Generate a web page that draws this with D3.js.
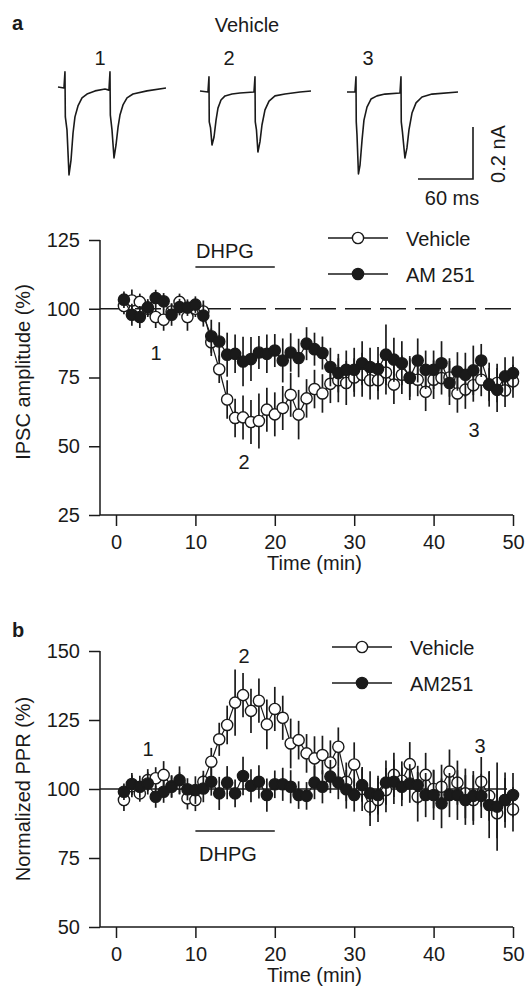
<!DOCTYPE html>
<html>
<head>
<meta charset="utf-8">
<script src="https://cdn.jsdelivr.net/npm/d3@7"></script>
<style>
  body { margin: 0; background: #fff; }
  text { font-family: "Liberation Sans", Arial, Helvetica, sans-serif; fill: #1a1a1a; }
</style>
</head>
<body>
<div id="chart"></div>
<script>

//-------------------------------------------------------//
//                        DATA                           //
//-------------------------------------------------------//

// time points (min)
var minutes = [1, 2, 3, 4, 5, 6, 7, 8, 9, 10, 11, 12, 13, 14, 15, 16, 17, 18, 19, 20,
    21, 22, 23, 24, 25, 26, 27, 28, 29, 30, 31, 32, 33, 34, 35, 36, 37, 38, 39, 40,
    41, 42, 43, 44, 45, 46, 47, 48, 49, 50];

// panel a: IPSC amplitude (%)
var ipscVehicle = [101, 103, 102.5, 100, 97, 96, 99, 102.5, 97, 100, 99, 87.8, 78.0, 67.0, 60.3,
    60.5, 58.8, 59.2, 63.3, 61.6, 63.9, 68.7, 61.5, 67.4, 70.8, 69.2, 72.7, 74.0, 73.0, 75.0,
    76.0, 74.0, 74.0, 76.8, 72.4, 76.0, 75.0, 74.2, 69.8, 74.2, 74.8, 75.0, 69.2, 70.6, 72.2,
    74.2, 72.4, 73.0, 70.3, 73.6];
var ipscVehicleErr = [3, 4, 3, 3, 4, 4, 3, 3, 5, 3, 4, 5, 5, 7, 7, 8, 8, 10, 8, 8, 8, 8, 9, 7, 7,
    7, 7, 8, 8, 7, 8, 7, 7, 8, 7, 7, 7, 6, 7, 7, 6, 7, 7, 7, 6, 6, 6, 7, 6, 6];
var ipscAM251 = [103.3, 97.8, 97.0, 100.5, 103.9, 102.7, 97.8, 100.6, 100.4, 101.5, 97.5, 90.0,
    88.1, 83.3, 83.6, 80.8, 81.7, 84.1, 83.6, 84.8, 81.2, 84.1, 82.1, 87.3, 85.3, 83.9, 78.8,
    76.6, 77.8, 77.8, 80.2, 78.8, 78.1, 83.3, 81.5, 80.2, 74.8, 81.2, 77.8, 77.8, 80.2, 73.0,
    77.2, 76.0, 77.6, 81.2, 72.4, 70.5, 75.4, 76.6];
var ipscAM251Err = [3, 4, 4, 3, 3, 3, 4, 3, 3, 3, 4, 6, 7, 8, 7, 9, 8, 6, 7, 6, 8, 7, 7, 6, 6,
    6, 7, 7, 7, 8, 8, 7, 8, 11, 8, 8, 8, 8, 7, 7, 8, 8, 7, 8, 9, 6, 8, 8, 7, 6];

// panel b: normalized PPR (%)
var pprVehicle = [96.0, 101.0, 98.4, 103.2, 103.9, 105.1, 101.0, 102.0, 96.6, 96.0, 102.6, 109.9,
    118.0, 123.2, 131.3, 134.0, 128.3, 132.0, 123.4, 129.0, 125.8, 116.5, 117.7, 112.9, 111.1,
    112.3, 109.6, 115.3, 102.6, 108.9, 100.0, 93.6, 96.0, 99.6, 105.1, 103.0, 109.0, 97.2, 105.1,
    100.0, 100.8, 106.3, 102.3, 98.4, 96.0, 102.6, 97.5, 91.2, 96.0, 92.6];
var pprVehicleErr = [4, 4, 3, 4, 4, 5, 4, 4, 4, 4, 4, 5, 6, 7, 12, 8, 8, 8, 9, 8, 8, 9, 7, 7, 8,
    7, 8, 7, 7, 8, 8, 7, 8, 8, 8, 7, 8, 9, 8, 7, 8, 8, 8, 9, 9, 9, 9, 9, 8, 8];
var pprAM251 = [99.0, 101.8, 100.8, 102.0, 97.2, 99.0, 100.8, 103.2, 99.9, 99.6, 100.2, 102.6,
    98.4, 102.3, 98.4, 104.7, 101.2, 102.6, 97.8, 101.7, 101.7, 100.8, 97.8, 97.5, 102.3, 100.8,
    104.5, 102.3, 99.9, 97.8, 101.4, 98.4, 97.8, 102.3, 102.6, 100.8, 102.0, 101.4, 97.8, 97.8,
    94.8, 97.8, 97.8, 96.0, 97.5, 97.5, 94.2, 93.6, 96.0, 97.8];
var pprAM251Err = [3, 4, 4, 4, 4, 4, 4, 5, 4, 5, 5, 5, 6, 6, 5, 7, 6, 6, 6, 5, 6, 6, 5, 5, 6,
    6, 6, 6, 7, 6, 6, 8, 7, 8, 8, 7, 7, 7, 8, 9, 9, 8, 9, 9, 9, 8, 12, 16, 10, 8];

// ticks
var timeTicks = [0, 10, 20, 30, 40, 50];
var ipscTicks = [25, 50, 75, 100, 125];
var pprTicks = [50, 75, 100, 125, 150];

// example traces [ms, nA]
var trace1 = [[0, 0], [6.5, -0.004], [7.6, 0.058], [8.0, -0.115], [9.8, -0.165], [12.0, -0.338],
    [14.2, -0.281], [16.4, -0.177], [18.5, -0.115], [21.8, -0.073], [26.2, -0.042], [31.6, -0.027],
    [40.4, -0.015], [51.3, -0.008], [55.6, -0.012], [56.7, 0.058], [57.1, -0.108], [58.9, -0.165],
    [61.1, -0.273], [63.3, -0.223], [65.5, -0.154], [67.6, -0.108], [70.9, -0.069], [75.3, -0.042],
    [81.8, -0.027], [97.1, -0.015], [117.8, -0.004]];
var trace2 = [[0, 0.004], [8.7, 0], [9.8, 0.058], [10.1, -0.115], [11.5, -0.138], [13.1, -0.204],
    [15.3, -0.173], [17.5, -0.108], [19.6, -0.062], [22.9, -0.031], [27.3, -0.015], [34.9, -0.008],
    [43.6, -0.004], [58.9, 0], [60.0, 0.058], [60.3, -0.115], [61.6, -0.146], [63.2, -0.231],
    [65.4, -0.192], [67.6, -0.127], [70.9, -0.069], [75.3, -0.035], [81.8, -0.015], [92.7, -0.008],
    [109.1, 0], [121.1, 0.004]];
var trace3 = [[0, 0], [8.7, 0], [9.8, 0.058], [10.1, -0.115], [10.9, -0.165], [12.5, -0.315],
    [14.2, -0.281], [16.4, -0.185], [18.5, -0.108], [21.8, -0.058], [26.2, -0.027], [32.7, -0.015],
    [41.4, -0.008], [57.8, -0.004], [58.9, 0.058], [59.2, -0.115], [60.5, -0.154], [63.2, -0.254],
    [65.4, -0.215], [67.6, -0.146], [70.9, -0.081], [75.3, -0.042], [81.8, -0.019], [92.7, -0.008],
    [121.1, 0]];


//-------------------------------------------------------//
//                   DEFINE SVG AREA                     //
//-------------------------------------------------------//

var svgWidth = 527;
var svgHeight = 991;
var ink = "#1a1a1a";

var svg = d3.select("#chart")
    .append("svg")
    .attr("width", svgWidth)
    .attr("height", svgHeight);

// label helper
function label(x, y, txt, opts) {
    opts = opts || {};
    var t = svg.append("text")
        .attr("x", x)
        .attr("y", y)
        .attr("font-size", opts.size || 20)
        .attr("text-anchor", opts.anchor || "start")
        .attr("font-weight", opts.bold ? "bold" : "normal")
        .text(txt);
    if (opts.rotate) {
        t.attr("x", 0).attr("y", 0)
            .attr("transform", `translate(${x},${y}) rotate(-90)`);
    }
    return t;
}


//-------------------------------------------------------//
//                   EXAMPLE TRACES                      //
//-------------------------------------------------------//

label(12, 30, "a", { bold: true });
label(247, 32, "Vehicle", { anchor: "middle" });

var traces = [
    { data: trace1, x0: 58, base: 87, num: "1", numX: 100 },
    { data: trace2, x0: 200, base: 92, num: "2", numX: 229 },
    { data: trace3, x0: 347, base: 92, num: "3", numX: 368 }
];

traces.forEach(function(tr) {
    var tx = d3.scaleLinear().domain([0, 60]).range([tr.x0, tr.x0 + 55]);
    var ty = d3.scaleLinear().domain([0, -0.2]).range([tr.base, tr.base + 52]);
    svg.append("path")
        .datum(tr.data)
        .attr("fill", "none")
        .attr("stroke", ink)
        .attr("stroke-width", 1.6)
        .attr("stroke-linejoin", "round")
        .attr("d", d3.line().x(d => tx(d[0])).y(d => ty(d[1])));
    label(tr.numX, 65, tr.num, { anchor: "middle" });
});

// scale bar: 60 ms x 0.2 nA
var barX = d3.scaleLinear().domain([0, 60]).range([418, 473]);
var barY = d3.scaleLinear().domain([0, 0.2]).range([179, 127]);
svg.append("path")
    .attr("fill", "none")
    .attr("stroke", ink)
    .attr("stroke-width", 1.6)
    .attr("d", `M${barX(0)},${barY(0)}H${barX(60)}V${barY(0.2)}`);
label(452, 205, "60 ms", { anchor: "middle" });
label(505, 154, "0.2 nA", { anchor: "middle", rotate: true });


//-------------------------------------------------------//
//                   TIME COURSE PANELS                  //
//-------------------------------------------------------//

function drawPanel(cfg) {
    var x = d3.scaleLinear().domain([0, 50]).range([116, 513]);
    var y = d3.scaleLinear().domain(cfg.yDomain).range([cfg.bottom, cfg.top]);
    var g = svg.append("g");

    // axes
    var xAxis = g.append("g")
        .attr("transform", `translate(0,${cfg.bottom})`)
        .call(d3.axisBottom(x).tickValues(timeTicks).tickSize(11).tickPadding(9));
    var yAxis = g.append("g")
        .attr("transform", "translate(100,0)")
        .call(d3.axisLeft(y).tickValues(cfg.ticks).tickSize(11).tickPadding(9).tickSizeOuter(0));
    [xAxis, yAxis].forEach(function(ax) {
        ax.select(".domain").remove();
        ax.selectAll("line").attr("stroke", ink).attr("stroke-width", 1.5);
        ax.selectAll("text")
            .attr("font-size", 20)
            .attr("fill", ink)
            .style("font-family", '"Liberation Sans", Arial, sans-serif');
    });
    g.append("path")
        .attr("fill", "none")
        .attr("stroke", ink)
        .attr("stroke-width", 1.5)
        .attr("d", `M100,${y(cfg.yDomain[1])}V${cfg.bottom}H513`);

    // reference line at 100 %
    g.append("line")
        .attr("x1", 100).attr("x2", cfg.refEnd)
        .attr("y1", y(100)).attr("y2", y(100))
        .attr("stroke", ink)
        .attr("stroke-width", 1.5)
        .attr("stroke-dasharray", cfg.dashed ? "26,9" : null);

    // DHPG bar
    g.append("line")
        .attr("x1", x(10)).attr("x2", x(20))
        .attr("y1", cfg.dhpgBar).attr("y2", cfg.dhpgBar)
        .attr("stroke", ink)
        .attr("stroke-width", 1.5);
    label(cfg.dhpgTextX, cfg.dhpgText, "DHPG");

    // series: vehicle first, AM251 on top
    cfg.series.forEach(function(s) {
        var pts = minutes.map((m, i) => ({ t: m, v: s.values[i], e: s.errors[i] }));
        var sg = g.append("g");
        sg.selectAll(".err")
            .data(pts)
            .enter()
            .append("line")
            .attr("x1", d => x(d.t)).attr("x2", d => x(d.t))
            .attr("y1", d => y(d.v - d.e)).attr("y2", d => y(d.v + d.e))
            .attr("stroke", ink)
            .attr("stroke-width", 1.7);
        sg.append("path")
            .datum(pts)
            .attr("fill", "none")
            .attr("stroke", ink)
            .attr("stroke-width", 1.2)
            .attr("d", d3.line().x(d => x(d.t)).y(d => y(d.v)));
        sg.selectAll(".pt")
            .data(pts)
            .enter()
            .append("circle")
            .attr("cx", d => x(d.t))
            .attr("cy", d => y(d.v))
            .attr("r", 5.6)
            .attr("fill", s.filled ? ink : "#fff")
            .attr("stroke", ink)
            .attr("stroke-width", 1.4);
    });

    // legend
    cfg.legend.forEach(function(l) {
        g.append("line")
            .attr("x1", l.x1).attr("x2", l.x1 + 60)
            .attr("y1", l.y).attr("y2", l.y)
            .attr("stroke", ink)
            .attr("stroke-width", 1.5);
        g.append("circle")
            .attr("cx", l.x1 + 30).attr("cy", l.y)
            .attr("r", 5.6)
            .attr("fill", l.filled ? ink : "#fff")
            .attr("stroke", ink)
            .attr("stroke-width", 1.4);
        label(l.x1 + 78, l.y + 8, l.name);
    });

    // labels
    cfg.marks.forEach(m => label(m[0], m[1], m[2], { anchor: "middle" }));
    label(30, cfg.titleY, cfg.title, { anchor: "middle", rotate: true });
    label(x(25), cfg.bottom + 55, "Time (min)", { anchor: "middle" });
}

drawPanel({
    yDomain: [25, 125], ticks: ipscTicks, top: 240, bottom: 515,
    dashed: true, refEnd: 513,
    dhpgBar: 267, dhpgText: 258, dhpgTextX: 196,
    title: "IPSC amplitude (%)", titleY: 372,
    series: [
        { values: ipscVehicle, errors: ipscVehicleErr, filled: false },
        { values: ipscAM251, errors: ipscAM251Err, filled: true }
    ],
    legend: [
        { x1: 328, y: 238, name: "Vehicle", filled: false },
        { x1: 328, y: 274, name: "AM 251", filled: true }
    ],
    marks: [[156, 360, "1"], [244, 469, "2"], [474, 437, "3"]]
});

label(12, 637, "b", { bold: true });

drawPanel({
    yDomain: [50, 150], ticks: pprTicks, top: 651, bottom: 927,
    dashed: false, refEnd: 507,
    dhpgBar: 831, dhpgText: 861, dhpgTextX: 199,
    title: "Normalized PPR (%)", titleY: 789,
    series: [
        { values: pprVehicle, errors: pprVehicleErr, filled: false },
        { values: pprAM251, errors: pprAM251Err, filled: true }
    ],
    legend: [
        { x1: 332, y: 647, name: "Vehicle", filled: false },
        { x1: 332, y: 683, name: "AM251", filled: true }
    ],
    marks: [[148, 756, "1"], [244, 663, "2"], [480, 753, "3"]]
});

</script>
</body>
</html>
